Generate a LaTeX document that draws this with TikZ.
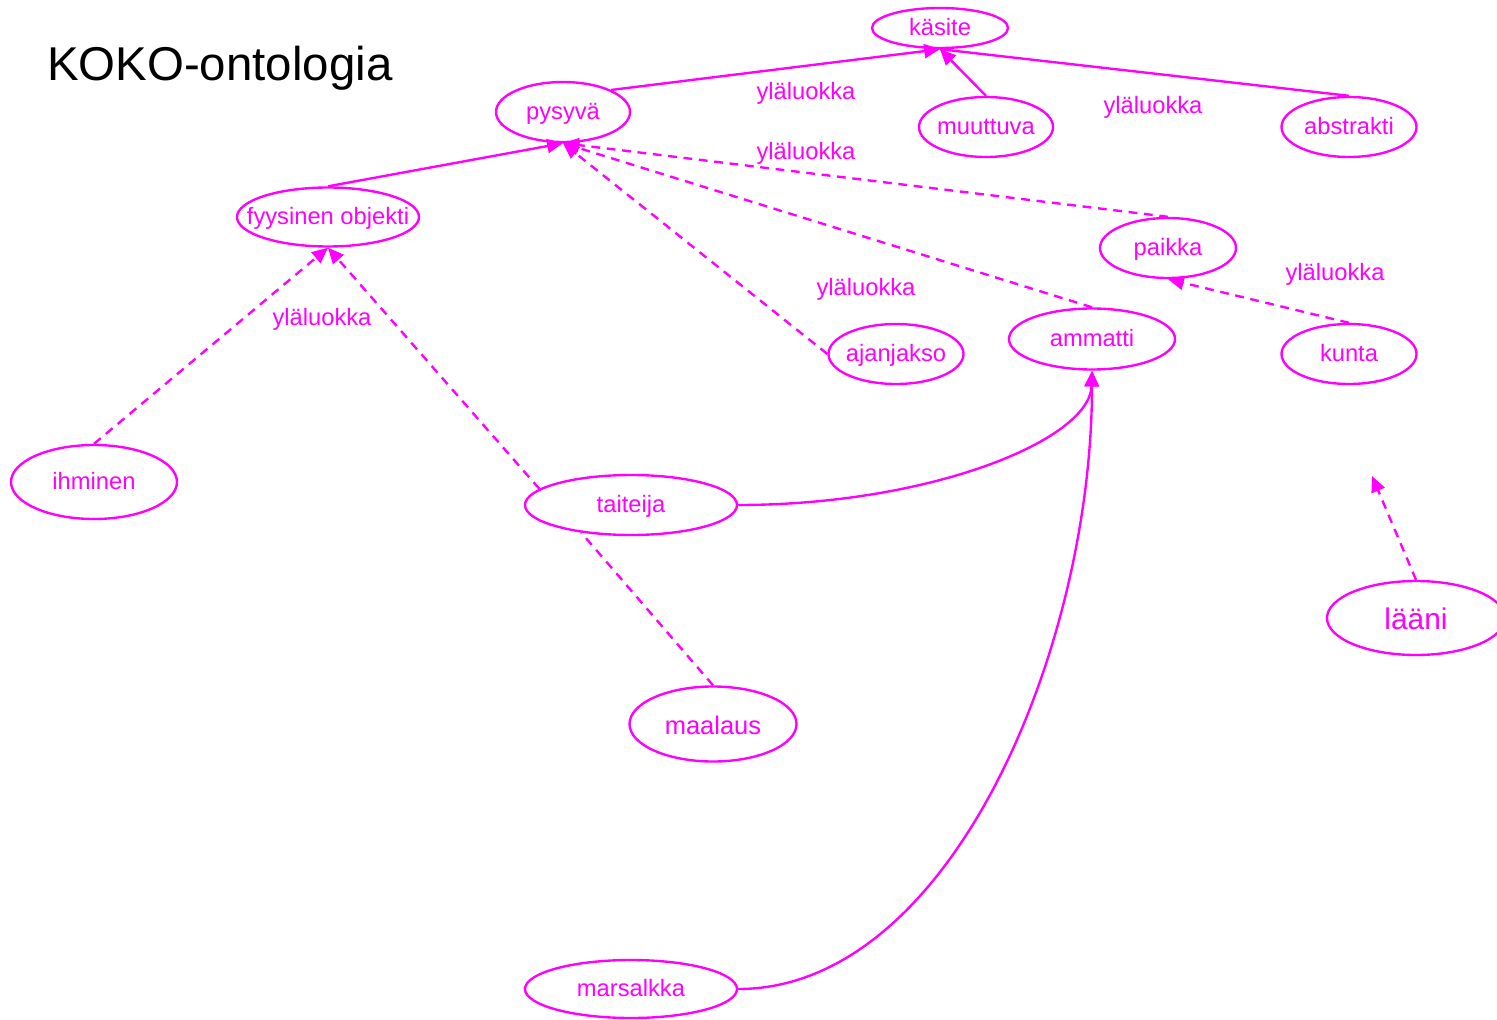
\documentclass[tikz,border=0pt]{standalone}
\usepackage{fontspec}
\setmainfont{Liberation Sans}
\usetikzlibrary{shapes.geometric,arrows.meta}
\definecolor{koko}{RGB}{255,0,255}

\begin{document}
\begin{tikzpicture}[x=0.02cm,y=-0.02cm,
  line width=1.35pt, koko,
  >={Triangle[length=9pt,width=8pt]},
  klass/.style 2 args={ellipse, draw, inner sep=0pt, font=\fontsize{13.5}{16}\selectfont,
    text height=9pt, text depth=0pt,
    minimum width=#1*0.02cm, minimum height=#2*0.02cm},
  rel/.style={font=\fontsize{13.5}{16}\selectfont},
  sub/.style={dash pattern=on 5pt off 3.8pt}]
  \useasboundingbox (0,0) rectangle (1497,1020);

  \node[black, anchor=west, font=\fontsize{27}{30}\selectfont] (otsikko) at (40,68) {KOKO-ontologia};

  \node[klass={136}{40}] (kasite) at (940,28) {\makebox[0pt]{käsite}};
  \node[klass={134}{60}] (pysyva) at (563,112) {\makebox[0pt]{pysyvä}};
  \node[klass={134}{60}] (muuttuva) at (986,127) {\makebox[0pt]{muuttuva}};
  \node[klass={135}{60}] (abstrakti) at (1349,127) {\makebox[0pt]{abstrakti}};
  \node[klass={182}{59}] (fyysinen) at (328,217) {\makebox[0pt]{fyysinen objekti}};
  \node[klass={136}{60}] (paikka) at (1168,248) {\makebox[0pt]{paikka}};
  \node[klass={166}{61}] (ammatti) at (1092,339) {\makebox[0pt]{ammatti}};
  \node[klass={135}{60}] (ajanjakso) at (896,354) {\makebox[0pt]{ajanjakso}};
  \node[klass={135}{60}] (kunta) at (1349,354) {\makebox[0pt]{kunta}};
  \node[klass={166}{74}] (ihminen) at (94,482) {\makebox[0pt]{ihminen}};
  \node[klass={212}{60}] (taiteija) at (631,505) {\makebox[0pt]{taiteija}};
  \node[klass={178}{74}, font=\fontsize{17}{20}\selectfont, text height=13pt] (laani) at (1416,618) {\makebox[0pt]{lääni}};
  \node[klass={167}{75}, font=\fontsize{14.5}{17}\selectfont, text height=12pt] (maalaus) at (713,724) {\makebox[0pt]{maalaus}};
  \node[klass={212}{58}] (marsalkka) at (631,989) {\makebox[0pt]{marsalkka}};

  \foreach \x/\y [count=\i] in {806/93, 1153/107, 806/153, 866/289, 1335/274, 322/319}
    \node[rel] (ylaluokka\i) at (\x,\y) {yläluokka};

  \coordinate (laanikarki) at (1372,476);

  \draw[->] (pysyva.north east) -- (kasite.south);
  \draw[->] (muuttuva.north) -- (kasite.south);
  \draw (abstrakti.north) -- (kasite.south);
  \draw[->] (fyysinen.north) -- (pysyva.south);
  \draw[->, sub] (ajanjakso.west) -- (pysyva.south);
  \draw[->, sub] (ammatti.north) -- (pysyva.south);
  \draw[->, sub] (paikka.north) -- (pysyva.south);
  \draw[->, sub] (ihminen.north) -- (fyysinen.south);
  \draw[->, sub] (taiteija.170) -- (fyysinen.south);
  \draw[sub] (maalaus.north) -- (taiteija.209);
  \draw[->, sub] (kunta.north) -- (paikka.south);
  \draw[->, sub] (laani.north) -- (laanikarki);

  \draw[->] (taiteija.east) .. controls (930,505) and (1090,440) .. (ammatti.south);
  \draw[->] (marsalkka.east) .. controls (950,989) and (1092,650) .. (ammatti.south);

\end{tikzpicture}
\end{document}
